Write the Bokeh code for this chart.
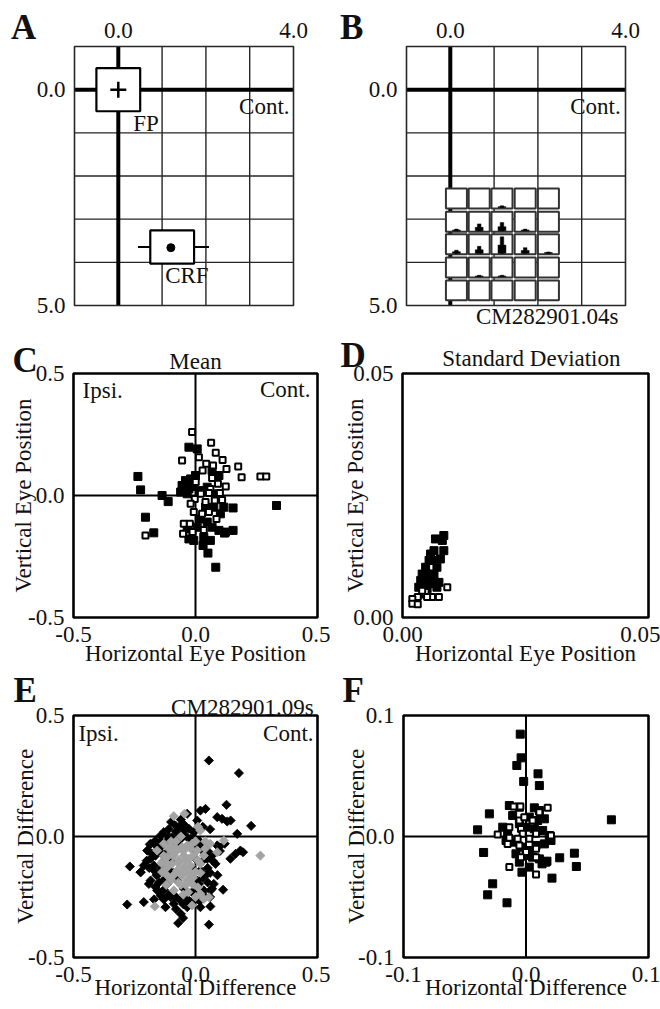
from bokeh.plotting import figure
from bokeh.models import Range1d, FixedTicker, PrintfTickFormatter, Label, LinearAxis
from bokeh.layouts import column, row
from bokeh.embed import file_html
from bokeh.resources import INLINE

SERIF = "Liberation Serif"
FS = "23px"
INK = "#111111"

# ---------------- Panel A / B data ----------------
ab_xlim = (-1, 4)
ab_ylim = (-1, 5)
grid_x = [0, 1, 2, 3]
grid_y = [0, 1, 2, 3, 4]
ab_xticks = [0, 4]
ab_yticks = [0, 5]
fp_x, fp_y = [0.0], [0.0]
crf_x, crf_y = [1.23], [3.645]
crf_w, crf_h = 1.0, 0.77
crf_whisk_x0, crf_whisk_x1 = [0.45], [2.07]
crf_dot_x, crf_dot_y = [1.2], [3.66]
mini_cols = [0.14, 0.66, 1.18, 1.71, 2.24]
mini_rows = [2.52, 3.06, 3.58, 4.12, 4.65]
mini_resp = [
    [0.00, 0.00, 0.04, 0.00, 0.00],
    [0.04, 0.16, 0.19, 0.04, 0.00],
    [0.07, 0.16, 0.38, 0.13, 0.03],
    [0.00, 0.03, 0.03, 0.00, 0.00],
    [0.00, 0.00, 0.00, 0.00, 0.00],
]

# ---------------- Panel C data (mean eye position) ----------------
c_lim = (-0.5, 0.5)
c_ticks = [-0.5, 0.0, 0.5]
c_fill_x = [-0.236, -0.225, -0.137, -0.112, -0.205, -0.171, 0.332, 0.154, 0.154, 0.119,
            0.031, 0.051, 0.083, -0.027, 0.007, -0.055, -0.041, -0.048, -0.020, -0.034,
            -0.061, -0.014, -0.027, 0.000, 0.020, 0.048, 0.068, 0.096, 0.034, 0.061,
            0.007, -0.027, -0.007, 0.102, 0.075, 0.041, 0.068, 0.096, 0.048, 0.020,
            0.082, 0.116, -0.034, 0.123]
c_fill_y = [0.078, 0.023, 0.000, -0.025, -0.089, -0.153, -0.041, -0.051, -0.143, -0.154,
            -0.205, -0.236, -0.294, 0.198, 0.191, 0.041, 0.061, 0.020, 0.068, 0.007,
            0.014, 0.037, 0.027, 0.082, -0.096, -0.109, -0.130, -0.143, -0.171, -0.184,
            -0.130, -0.178, -0.184, -0.075, -0.048, -0.048, 0.102, 0.082, 0.034, 0.020,
            0.007, -0.048, -0.137, -0.150]
c_open_x = [-0.014, 0.064, -0.055, 0.083, 0.111, 0.044, 0.072, 0.029, 0.127, 0.175,
            0.189, 0.266, 0.290, 0.001, 0.068, 0.092, 0.124, 0.061, 0.100, -0.003,
            0.041, -0.020, 0.079, 0.109, -0.007, 0.027, 0.055, 0.086, -0.048, -0.023,
            -0.051, -0.012, 0.034, -0.205, 0.014, 0.022, 0.055]
c_open_y = [0.260, 0.216, 0.143, 0.175, 0.146, 0.130, 0.123, 0.102, 0.109, 0.119,
            0.075, 0.078, 0.078, 0.055, 0.072, 0.048, 0.037, 0.027, 0.010, -0.014,
            -0.027, -0.034, -0.020, -0.018, -0.068, -0.075, -0.068, -0.096, -0.116, -0.116,
            -0.157, -0.150, -0.141, -0.164, 0.157, 0.007, 0.010]

# ---------------- Panel D data (standard deviation) ----------------
d_lim = (0.0, 0.05)
d_ticks = [0.0, 0.05]
d_fill_x = [0.0084, 0.0081, 0.0067, 0.0084, 0.0064, 0.0057, 0.0054, 0.0077, 0.0047, 0.0070,
            0.0040, 0.0064, 0.0037, 0.0057, 0.0074, 0.0033, 0.0050, 0.0070, 0.0043, 0.0060,
            0.0050, 0.0043, 0.0064]
d_fill_y = [0.0168, 0.0158, 0.0161, 0.0137, 0.0137, 0.0130, 0.0117, 0.0120, 0.0103, 0.0103,
            0.0089, 0.0089, 0.0076, 0.0076, 0.0072, 0.0062, 0.0059, 0.0062, 0.0048, 0.0117,
            0.0089, 0.0076, 0.0069]
d_open_x = [0.0091, 0.0074, 0.0060, 0.0047, 0.0031, 0.0020, 0.0020, 0.0031, 0.0040, 0.0050]
d_open_y = [0.0062, 0.0042, 0.0042, 0.0052, 0.0042, 0.0038, 0.0028, 0.0027, 0.0055, 0.0042]

# ---------------- Panel E data (differences, two groups) ----------------
e_lim = (-0.5, 0.5)
e_ticks = [-0.5, 0.0, 0.5]
e_black_x = [0.055, 0.178, 0.127, 0.089, 0.109, 0.130, 0.144, 0.228, 0.171, 0.020,
             0.041, 0.007, -0.034, 0.195, 0.184, 0.164, 0.143, 0.089, 0.096, 0.082,
             0.068, 0.048, 0.034, 0.014, -0.007, -0.027, -0.048, -0.068, -0.082, -0.130,
             -0.143, -0.164, -0.187, -0.198, -0.184, -0.212, -0.225, -0.269, -0.280, -0.212,
             -0.071, -0.051, 0.055, 0.061, 0.113, 0.068, 0.034, 0.014, 0.041, 0.020,
             0.000, -0.020, 0.007, -0.014, -0.048, -0.075, -0.096, -0.123, -0.150, -0.116,
             -0.143, -0.164, -0.184, -0.225, -0.184, -0.137, -0.109, -0.116, -0.096, -0.075,
             -0.055, -0.034, -0.143, -0.164, -0.157, -0.116, -0.191, -0.102, -0.061, -0.034,
             0.007, 0.020, 0.061, 0.075, -0.123, -0.089, -0.034, 0.020, 0.050, 0.030,
             -0.010, -0.060, -0.110, -0.100, -0.130, -0.170, -0.150, 0.060, -0.080, -0.130,
             -0.060, -0.200, -0.170, -0.150, -0.130, -0.110, -0.080, -0.050, -0.020, 0.010,
             0.040, 0.050, 0.030, 0.060, 0.070, 0.050, 0.020, -0.020, -0.050, -0.080,
             -0.110, -0.140, -0.160, -0.180, -0.190, -0.160, -0.130, -0.140, -0.120, -0.090,
             0.000, 0.030, -0.170, 0.090, 0.100, 0.120, 0.060, 0.030, -0.100, -0.060]
e_black_y = [0.314, 0.262, 0.131, 0.080, 0.073, 0.062, 0.066, 0.044, 0.011, 0.107,
             0.114, 0.066, 0.094, -0.065, -0.058, -0.072, -0.092, -0.037, -0.044, -0.113,
             -0.079, -0.092, -0.044, -0.017, 0.018, 0.032, 0.050, 0.039, 0.045, 0.018,
             0.004, -0.017, -0.033, -0.058, -0.092, -0.120, -0.147, -0.124, -0.281, -0.271,
             -0.358, -0.337, -0.364, -0.289, -0.220, -0.216, -0.223, -0.196, -0.161, -0.140,
             -0.092, -0.127, -0.182, -0.230, -0.216, -0.182, -0.147, -0.127, -0.154, -0.182,
             -0.244, -0.209, -0.182, -0.148, -0.030, -0.072, -0.058, -0.017, -0.003, -0.023,
             0.004, -0.003, -0.044, -0.079, -0.223, -0.196, -0.196, -0.251, -0.264, -0.258,
             -0.244, -0.264, -0.223, -0.196, -0.292, -0.278, -0.292, -0.292, -0.130, -0.060,
             -0.040, -0.010, 0.030, -0.100, -0.100, -0.120, -0.050, -0.250, -0.300, -0.260,
             -0.320, -0.100, -0.140, -0.190, -0.220, -0.240, -0.250, -0.280, -0.270, -0.260,
             -0.250, -0.190, -0.170, -0.150, -0.100, -0.060, -0.030, -0.010, 0.020, 0.020,
             0.000, -0.020, -0.040, -0.070, -0.130, -0.160, -0.180, -0.130, -0.070, -0.030,
             -0.060, -0.100, -0.260, -0.160, -0.060, -0.030, 0.030, 0.040, 0.060, 0.070]
e_gray_x = [-0.089, -0.045, 0.020, 0.010, 0.089, 0.116, 0.266, -0.116, -0.096, -0.075,
            -0.055, -0.034, -0.014, -0.048, -0.027, -0.096, -0.068, -0.048, -0.075, -0.055,
            -0.027, -0.034, -0.014, 0.000, 0.020, 0.034, 0.007, -0.123, -0.137, -0.116,
            -0.157, 0.020, -0.167, -0.089, -0.014, 0.034, 0.055, -0.100, -0.080, -0.120,
            -0.060, -0.030, 0.000, -0.130, -0.100, 0.040, -0.110, -0.090, -0.070, -0.040,
            -0.020, -0.010, -0.060, -0.090, -0.040, -0.010, 0.010, -0.070, -0.110, -0.130,
            -0.080, -0.050, -0.030, 0.020, 0.010, -0.020, -0.060, -0.100, 0.040, 0.060,
            0.000, -0.050, -0.120, -0.140]
e_gray_y = [0.084, 0.094, 0.025, 0.040, -0.065, -0.017, -0.079, -0.085, -0.065, -0.058,
            -0.044, -0.037, -0.030, -0.079, -0.092, -0.113, -0.099, -0.127, -0.140, -0.161,
            -0.154, -0.182, -0.196, -0.147, -0.113, -0.079, -0.058, -0.106, -0.147, -0.161,
            -0.058, -0.237, -0.289, -0.223, -0.285, -0.258, -0.251, -0.040, -0.020, -0.130,
            -0.200, -0.230, -0.020, -0.030, -0.180, -0.020, -0.050, -0.080, -0.110, -0.100,
            -0.120, -0.080, -0.150, -0.160, -0.200, -0.170, -0.210, -0.190, -0.120, -0.080,
            -0.050, -0.060, -0.140, -0.150, -0.100, -0.050, 0.000, -0.020, -0.050, -0.030,
            -0.250, -0.240, -0.200, -0.110]

# ---------------- Panel F data ----------------
f_lim = (-0.1, 0.1)
f_ticks = [-0.1, 0.0, 0.1]
f_fill_x = [-0.0047, -0.0040, -0.0075, -0.0019, 0.0098, 0.0109, 0.0697, -0.0299, -0.0395, -0.0346,
            -0.0272, -0.0313, -0.0155, -0.0033, 0.0212, 0.0275, 0.0395, 0.0411, 0.0171, 0.0131,
            -0.0136, -0.0054, 0.0068, 0.0109, -0.0109, 0.0027, 0.0095, 0.0150, -0.0190, -0.0150,
            -0.0054, 0.0000, 0.0068, 0.0136, 0.0190, 0.0204, 0.0150, 0.0082, 0.0027, -0.0041,
            -0.0095, -0.0163, -0.0082, 0.0000, 0.0054, 0.0109, 0.0163, -0.0054, 0.0027]
f_fill_y = [0.0846, 0.0650, 0.0587, 0.0455, 0.0518, 0.0421, 0.0138, 0.0187, 0.0055, -0.0132,
            -0.0391, -0.0482, -0.0548, -0.0295, -0.0344, -0.0176, -0.0138, -0.0248, -0.0204, -0.0226,
            0.0256, 0.0242, 0.0237, 0.0215, 0.0174, 0.0160, 0.0132, 0.0146, 0.0077, 0.0036,
            0.0105, 0.0077, 0.0063, 0.0050, 0.0008, -0.0033, -0.0061, -0.0074, -0.0116, -0.0088,
            -0.0047, -0.0033, -0.0143, -0.0157, -0.0171, -0.0185, -0.0212, -0.0212, -0.0253]
f_open_x = [-0.0101, -0.0046, 0.0177, 0.0109, -0.0054, 0.0054, -0.0136, -0.0041, 0.0082, -0.0027,
            -0.0231, -0.0136, -0.0068, 0.0027, 0.0204, -0.0150, -0.0054, 0.0082, 0.0000, -0.0041,
            0.0082, -0.0136, 0.0082, -0.0014]
f_open_y = [0.0248, 0.0248, 0.0237, 0.0201, 0.0132, 0.0132, 0.0077, 0.0063, 0.0022, 0.0022,
            0.0017, -0.0011, -0.0019, -0.0019, 0.0008, -0.0061, -0.0074, -0.0102, -0.0129, -0.0171,
            -0.0171, -0.0253, -0.0314, 0.0160]


# ---------------- layout helpers (pixel geometry of each panel) ----------------
def panel_fig(W, H, box, xlim, ylim, invert_y=False):
    """Figure whose frame is the whole canvas; the data box maps to the pixel box."""
    l, r, t, b = box
    x0, x1 = xlim
    sx = (x1 - x0) / (r - l)
    xr = Range1d(x0 - l * sx, x1 + (W - r) * sx)
    if invert_y:
        y_top, y_bot = ylim[0], ylim[1]
    else:
        y_top, y_bot = ylim[1], ylim[0]
    sy = (y_bot - y_top) / (b - t)
    yr = Range1d(y_top + (H - t) * sy, y_top - t * sy)
    p = figure(width=W, height=H, x_range=xr, y_range=yr, output_backend="svg",
               toolbar_location=None, x_axis_location=None, y_axis_location=None,
               min_border=0)
    p.background_fill_color = "white"
    p.border_fill_color = "white"
    p.outline_line_color = None
    p.grid.visible = False
    return p


def style_axis(ax):
    ax.major_tick_line_color = None
    ax.minor_tick_line_color = None
    ax.axis_line_color = None
    ax.major_label_text_font = SERIF
    ax.major_label_text_font_size = FS
    ax.major_label_text_color = INK
    ax.axis_label_text_font = SERIF
    ax.axis_label_text_font_size = FS
    ax.axis_label_text_font_style = "normal"
    ax.axis_label_text_color = INK
    ax.major_label_standoff = 3
    return ax


def add_axes(p, xlim, ylim, xticks, yticks, fmt, xside="below", x_at=None, y_at=None,
             xlabel=None, ylabel=None, xstand=-8, ystand=-8):
    xa = LinearAxis(fixed_location=y_at, bounds=(min(xlim), max(xlim)),
                    ticker=FixedTicker(ticks=xticks), formatter=PrintfTickFormatter(format=fmt))
    ya = LinearAxis(fixed_location=x_at, bounds=(min(ylim), max(ylim)),
                    ticker=FixedTicker(ticks=yticks), formatter=PrintfTickFormatter(format=fmt))
    style_axis(xa)
    style_axis(ya)
    if xlabel:
        xa.axis_label = xlabel
        xa.axis_label_standoff = xstand
    if ylabel:
        ya.axis_label = ylabel
        ya.axis_label_standoff = ystand
    p.add_layout(xa, xside)
    p.add_layout(ya, "left")


def add_label(p, x, y, text, align="left", size=FS, bold=False, lift=7):
    p.add_layout(Label(x=x, y=y, text=text, text_font=SERIF, text_font_size=size,
                       text_font_style="bold" if bold else "normal", text_color=INK,
                       text_align=align, text_baseline="alphabetic", y_offset=lift))


def add_letter(p, x, y, text):
    add_label(p, x, y, text, size="35px", bold=True, lift=13)


def box_outline(p, xlim, ylim, width, color="black"):
    p.quad(left=[xlim[0]], right=[xlim[1]], bottom=[ylim[0]], top=[ylim[1]],
           fill_color=None, line_color=color, line_width=width)


def zero_lines(p, xlim, ylim, width, color="black"):
    p.segment(x0=[0], y0=[ylim[0]], x1=[0], y1=[ylim[1]], line_color=color, line_width=width)
    p.segment(x0=[xlim[0]], y0=[0], x1=[xlim[1]], y1=[0], line_color=color, line_width=width)


def grid_panel(box):
    p = panel_fig(330, 330, box, ab_xlim, ab_ylim, invert_y=True)
    n1, n2 = len(grid_x), len(grid_y)
    p.segment(x0=grid_x, y0=[ab_ylim[0]] * n1, x1=grid_x, y1=[ab_ylim[1]] * n1,
              line_color="#262626", line_width=1.4)
    p.segment(x0=[ab_xlim[0]] * n2, y0=grid_y, x1=[ab_xlim[1]] * n2, y1=grid_y,
              line_color="#262626", line_width=1.4)
    zero_lines(p, ab_xlim, ab_ylim, 4)
    add_axes(p, ab_xlim, ab_ylim, ab_xticks, ab_yticks, "%.1f", xside="above",
             x_at=ab_xlim[0], y_at=ab_ylim[0])
    return p


# ---------- A ----------
pA = grid_panel((74, 293, 46, 305))
pA.rect(x=fp_x, y=fp_y, width=1.0, height=1.0, fill_color="white", line_color="black", line_width=2.2)
pA.scatter(x=fp_x, y=fp_y, marker="cross", size=16, line_color="black", line_width=2.5)
pA.segment(x0=crf_whisk_x0, y0=crf_y, x1=crf_whisk_x1, y1=crf_y, line_color="black", line_width=2)
pA.rect(x=crf_x, y=crf_y, width=crf_w, height=crf_h, fill_color="white", line_color="black", line_width=2.2)
pA.scatter(x=crf_dot_x, y=crf_dot_y, marker="circle", size=8, fill_color="black", line_color="black")
box_outline(pA, ab_xlim, ab_ylim, 1.6, "#262626")
add_label(pA, 0.34, 0.95, "FP")
add_label(pA, 3.91, 0.56, "Cont.", align="right")
add_label(pA, 1.07, 4.47, "CRF")
add_letter(pA, -2.45, -1.13, "A")

# ---------- B ----------
pB = grid_panel((76, 295, 46, 305))
bx, by = [], []
for r in mini_rows:
    for c in mini_cols:
        bx.append(c)
        by.append(r)
pB.rect(x=bx, y=by, width=0.48, height=0.46, fill_color="white", line_color="#333333", line_width=2)
hx, hb, ht_base, ht_peak = [], [], [], []
for ri, r in enumerate(mini_rows):
    for ci, c in enumerate(mini_cols):
        resp = mini_resp[ri][ci]
        if resp > 0:
            bottom = r + 0.21
            hx.append(c)
            hb.append(bottom)
            ht_base.append(bottom - 0.5 * resp)
            ht_peak.append(bottom - resp)
pB.vbar(x=hx, width=0.18, bottom=hb, top=ht_base, fill_color="black", line_color="black", line_width=0.5)
pB.vbar(x=hx, width=0.08, bottom=hb, top=ht_peak, fill_color="black", line_color="black", line_width=0.5)
box_outline(pB, ab_xlim, ab_ylim, 1.6, "#262626")
add_label(pB, 3.89, 0.56, "Cont.", align="right")
add_label(pB, 3.84, 5.42, "CM282901.04s", align="right")
add_letter(pB, -2.52, -1.13, "B")


def scatter_panel(H, box, lim, ticks, fmt, xlabel, ylabel, xstand, ystand, zeros=True):
    p = panel_fig(330, H, box, lim, lim)
    if zeros:
        zero_lines(p, lim, lim, 2)
    add_axes(p, lim, lim, ticks, ticks, fmt, x_at=lim[0], y_at=lim[0],
             xlabel=xlabel, ylabel=ylabel, xstand=xstand, ystand=ystand)
    return p


def squares(p, fx, fy, ox, oy):
    p.scatter(x=fx, y=fy, marker="square", size=8, fill_color="black", line_color="black", line_width=1)
    p.scatter(x=ox, y=oy, marker="square", size=6, fill_color="white", line_color="black", line_width=2)


# ---------- C ----------
pC = scatter_panel(340, (73, 317, 43, 287), c_lim, c_ticks, "%.1f",
                   "Horizontal Eye Position", "Vertical Eye Position", -4, -11)
squares(pC, c_fill_x, c_fill_y, c_open_x, c_open_y)
box_outline(pC, c_lim, c_lim, 2.6)
add_label(pC, -0.463, 0.40, "Ipsi.")
add_label(pC, 0.471, 0.406, "Cont.", align="right")
add_label(pC, 0.0, 0.52, "Mean", align="center")
add_letter(pC, -0.75, 0.5, "C")

# ---------- D ----------
pD = scatter_panel(340, (72, 318, 43, 287), d_lim, d_ticks, "%.2f",
                   "Horizontal Eye Position", "Vertical Eye Position", -4, -18, zeros=False)
squares(pD, d_fill_x, d_fill_y, d_open_x, d_open_y)
box_outline(pD, d_lim, d_lim, 2.6)
add_label(pD, 0.0262, 0.0516, "Standard Deviation", align="center")
add_letter(pD, -0.0126, 0.051, "D")

# ---------- E ----------
pE = scatter_panel(339, (73, 317, 45, 287), e_lim, e_ticks, "%.1f",
                   "Horizontal Difference", "Vertical Difference", -10, -13)
pE.scatter(x=e_black_x, y=e_black_y, marker="square", angle=0.785, size=6.5,
           fill_color="black", line_color="black", line_width=0.8)
pE.scatter(x=e_gray_x, y=e_gray_y, marker="square", angle=0.785, size=6.5,
           fill_color="#a3a3a3", line_color="#a3a3a3", line_width=0.8)
box_outline(pE, e_lim, e_lim, 2.6)
add_label(pE, -0.48, 0.397, "Ipsi.")
add_label(pE, 0.484, 0.397, "Cont.", align="right")
add_label(pE, 0.484, 0.505, "CM282901.09s", align="right")
add_letter(pE, -0.746, 0.55, "E")

# ---------- F ----------
pF = scatter_panel(339, (73, 318, 45, 287), f_lim, f_ticks, "%.1f",
                   "Horizontal Difference", "Vertical Difference", -10, -14)
squares(pF, f_fill_x, f_fill_y, f_open_x, f_open_y)
box_outline(pF, f_lim, f_lim, 2.6)
add_letter(pF, -0.1498, 0.11, "F")

layout = column(row(pA, pB, spacing=0), row(pC, pD, spacing=0), row(pE, pF, spacing=0), spacing=0)
open("out.html", "w").write(file_html(layout, INLINE))
